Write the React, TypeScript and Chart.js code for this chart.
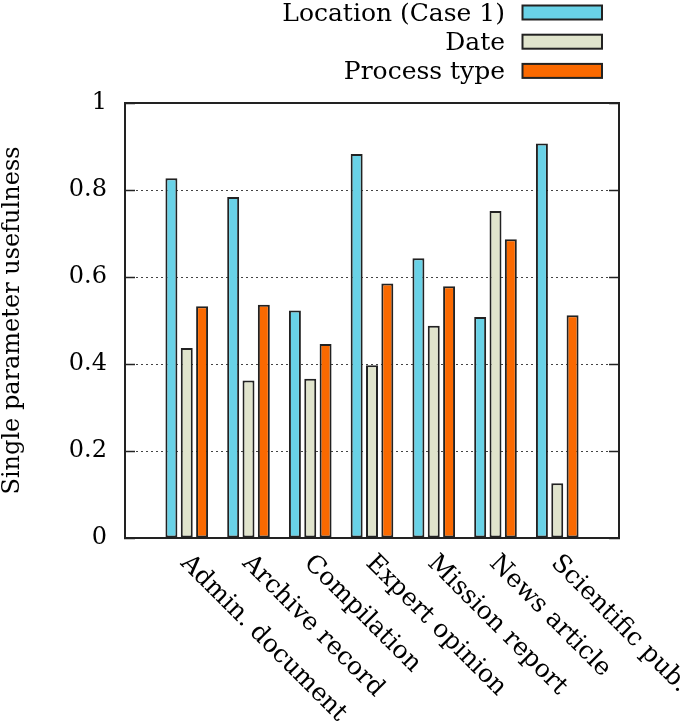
import React, { useEffect, useRef } from "react";
import { Chart, registerables } from "chart.js";

Chart.register(...registerables);

const categories = [
  "Admin. document",
  "Archive record",
  "Compilation",
  "Expert opinion",
  "Mission report",
  "News article",
  "Scientific pub.",
];
const locationValues = [0.827, 0.784, 0.523, 0.883, 0.643, 0.508, 0.907];
const dateValues = [0.437, 0.362, 0.366, 0.397, 0.488, 0.752, 0.126];
const processValues = [0.533, 0.536, 0.446, 0.585, 0.579, 0.687, 0.512];
const seriesLabels = ["Location (Case 1)", "Date", "Process type"];
const seriesColors = ["#69D2E7", "#E0E4CC", "#FA6900"];
const yTicks = [0, 0.2, 0.4, 0.6, 0.8, 1];

const FONT = '"DejaVu Serif", serif';

const labelsPlugin = {
  id: "rotatedLabels",
  afterDraw(chart: any) {
    const { ctx, chartArea } = chart;
    const xs = chart.scales.x;
    ctx.save();
    ctx.font = `25px ${FONT}`;
    ctx.fillStyle = "#000";
    ctx.textAlign = "left";
    ctx.textBaseline = "alphabetic";
    categories.forEach((c, i) => {
      const cx = xs.getPixelForValue(i + 1);
      ctx.save();
      ctx.translate(cx - 7, chartArea.bottom + 26);
      ctx.rotate(Math.PI / 4);
      ctx.fillText(c, 0, 0);
      ctx.restore();
    });
    ctx.restore();
  },
};

const legendPlugin = {
  id: "rightLegend",
  afterDraw(chart: any) {
    const { ctx, chartArea } = chart;
    ctx.save();
    ctx.font = `25px ${FONT}`;
    ctx.textAlign = "right";
    ctx.textBaseline = "alphabetic";
    chart.data.datasets.forEach((ds: any, i: number) => {
      const cy = 12.5 + i * 29.2;
      const bx = chartArea.right - 96.5;
      ctx.fillStyle = ds.backgroundColor;
      ctx.fillRect(bx, cy - 7, 79.5, 14);
      ctx.strokeStyle = "#222";
      ctx.lineWidth = 2;
      ctx.strokeRect(bx, cy - 7, 79.5, 14);
      ctx.fillStyle = "#000";
      ctx.fillText(ds.label, bx - 17.5, cy + 8.5);
    });
    ctx.restore();
  },
};

export default function App() {
  const ref = useRef<HTMLCanvasElement>(null);
  useEffect(() => {
    document.body.style.margin = "0";
    Chart.defaults.font.family = FONT;
    Chart.defaults.color = "#000";
    const mk = (vals: number[]) => vals.map((v, i) => ({ x: i + 1, y: v }));
    const seriesData = [locationValues, dateValues, processValues];
    const chart = new Chart(ref.current as HTMLCanvasElement, {
      type: "bar",
      data: {
        datasets: seriesData.map((vals, i) => ({
          label: seriesLabels[i],
          data: mk(vals),
          backgroundColor: seriesColors[i],
          borderColor: "#222",
          borderWidth: 2,
          borderSkipped: false,
          categoryPercentage: 0.745,
          barPercentage: 0.78,
          xAxisID: "x",
          yAxisID: "y",
        })),
      },
      options: {
        animation: false,
        responsive: false,
        layout: { padding: { top: 103, right: 66, bottom: 185, left: 0 } },
        plugins: { legend: { display: false }, tooltip: { enabled: false } },
        scales: {
          x: {
            type: "linear",
            position: "bottom",
            min: 0,
            max: 8,
            offset: false,
            ticks: { display: false, stepSize: 1 },
            grid: { display: false, offset: false },
            border: { display: true, color: "#222", width: 2 },
            afterFit: (s: any) => {
              s.height = 0;
            },
          },
          x2: {
            type: "linear",
            position: "top",
            min: 0,
            max: 8,
            offset: false,
            ticks: { display: false, stepSize: 1 },
            grid: { display: false },
            border: { display: true, color: "#222", width: 2 },
            afterFit: (s: any) => {
              s.height = 0;
            },
          },
          y: {
            type: "linear",
            position: "left",
            min: 0,
            max: 1,
            afterBuildTicks: (s: any) => {
              s.ticks = yTicks.map((v) => ({ value: v }));
            },
            ticks: {
              font: { size: 24, family: FONT },
              color: "#000",
              padding: 28,
              callback: (v: any) => String(v),
            },
            grid: {
              color: "#444",
              lineWidth: 1,
              drawTicks: true,
              tickLength: -10,
              tickColor: "#222",
              tickWidth: 1.5,
            },
            border: { display: true, color: "#222", width: 2, dash: [2, 3] },
            title: {
              display: true,
              text: "Single parameter usefulness",
              font: { size: 24, family: FONT },
              color: "#000",
              padding: { top: -2, bottom: 0 },
            },
            afterFit: (s: any) => {
              s.width = 125;
            },
          },
          y2: {
            type: "linear",
            position: "right",
            min: 0,
            max: 1,
            afterBuildTicks: (s: any) => {
              s.ticks = yTicks.map((v) => ({ value: v }));
            },
            ticks: { display: false },
            grid: {
              drawOnChartArea: false,
              drawTicks: true,
              tickLength: -10,
              tickColor: "#222",
              tickWidth: 1.5,
            },
            border: { display: true, color: "#222", width: 2 },
            afterFit: (s: any) => {
              s.width = 0;
            },
          },
        },
      },
      plugins: [labelsPlugin, legendPlugin],
    } as any);
    return () => chart.destroy();
  }, []);
  return (
    <div style={{ width: 685, height: 723 }}>
      <canvas ref={ref} width={685} height={723} style={{ display: "block" }} />
    </div>
  );
}
